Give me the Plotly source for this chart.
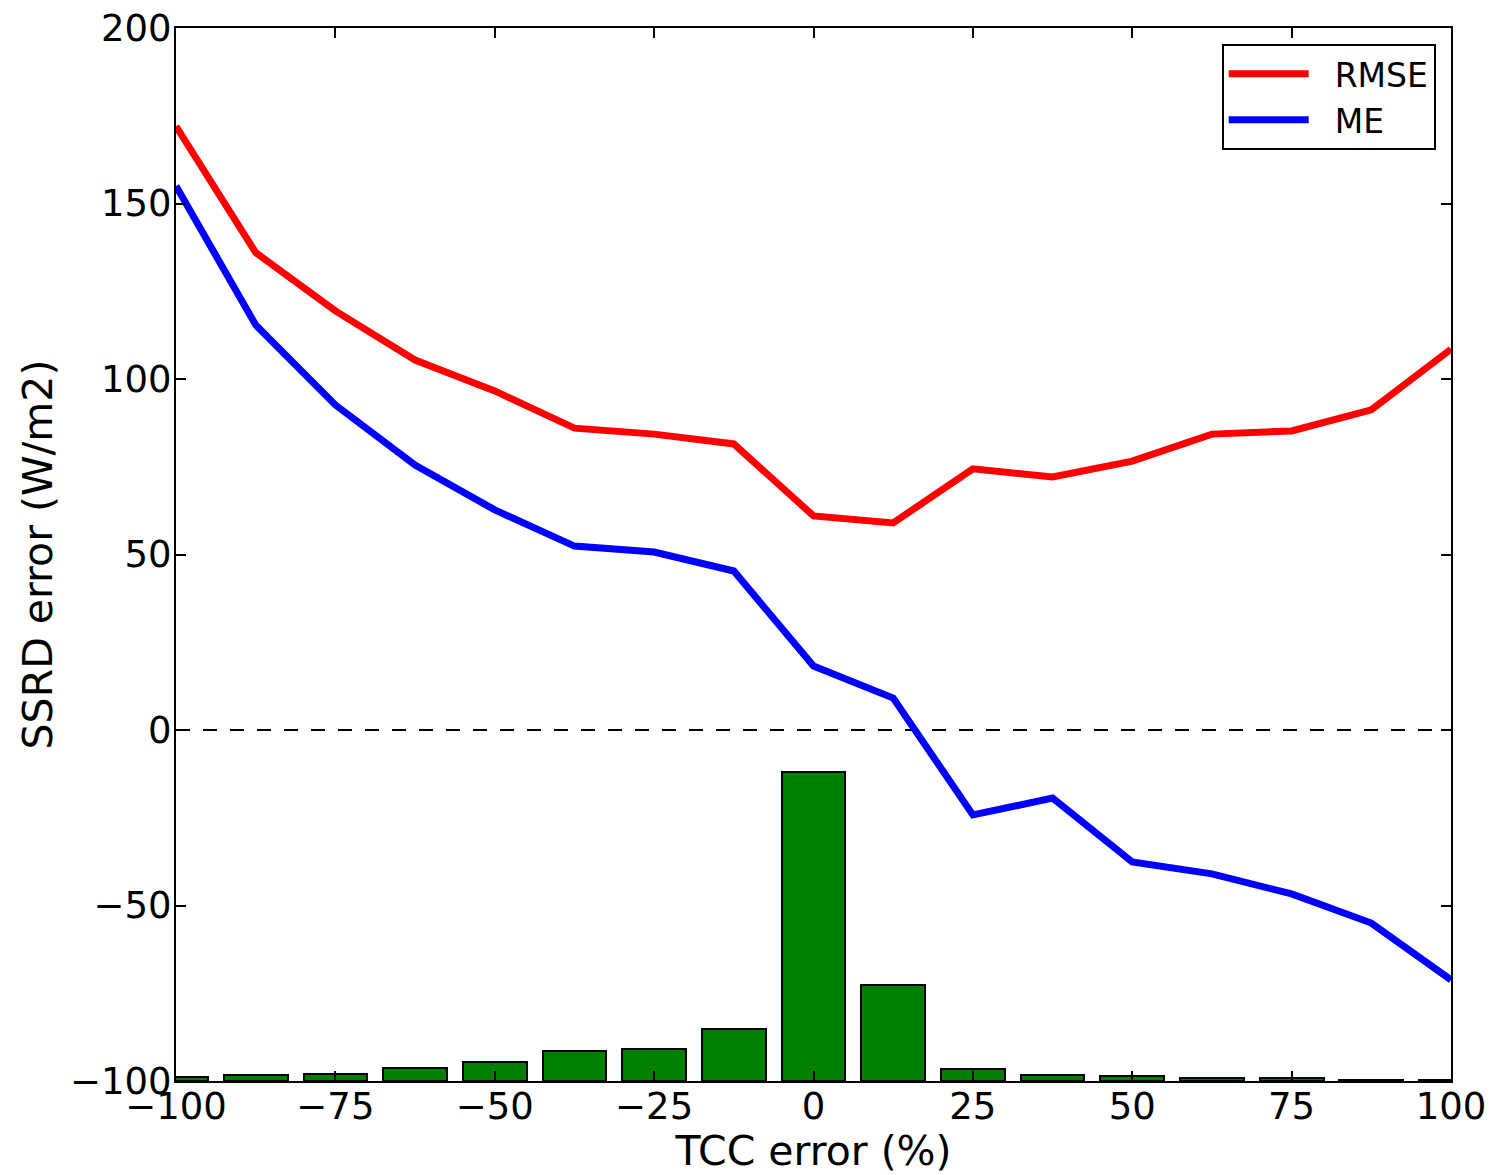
import plotly.graph_objects as go

tcc_error = [-100, -87.5, -75, -62.5, -50, -37.5, -25, -12.5, 0, 12.5, 25, 37.5, 50, 62.5, 75, 87.5, 100]
rmse = [172, 136, 119.4, 105.4, 96.6, 86, 84.3, 81.5, 61, 59, 74.4, 72.1, 76.6, 84.3, 85.2, 91.2, 108.5]
me = [155, 115.4, 92.6, 75.5, 62.7, 52.4, 50.7, 45.3, 18.2, 9.1, -24.2, -19.4, -37.6, -41, -46.7, -55, -71.2]
# histogram bar heights, drawn upward from the bottom of the axis (-100)
counts = [1.1, 1.7, 2.0, 3.7, 5.4, 8.5, 9.1, 14.8, 88.0, 27.4, 3.4, 1.7, 1.4, 0.9, 0.9, 0.4, 0.4]
bar_base = -100

x_ticks = [-100, -75, -50, -25, 0, 25, 50, 75, 100]
y_ticks = [-100, -50, 0, 50, 100, 150, 200]

font_family = "DejaVu Sans"
pad = "\u00a0\u00a0"

fig = go.Figure()
fig.add_trace(go.Bar(
    x=tcc_error, y=counts, base=bar_base, width=10,
    marker=dict(color="#008000", line=dict(color="black", width=2)),
    showlegend=False,
))
fig.add_trace(go.Scatter(
    x=[-100, 100], y=[0, 0], mode="lines",
    line=dict(color="black", width=2, dash="14px,13px"),
    showlegend=False, hoverinfo="skip",
))
fig.add_trace(go.Scatter(
    x=tcc_error, y=rmse, mode="lines", name=pad + "RMSE",
    line=dict(color="#ff0000", width=7),
))
fig.add_trace(go.Scatter(
    x=tcc_error, y=me, mode="lines", name=pad + "ME",
    line=dict(color="#0000ff", width=7),
))

axis_common = dict(
    showline=True, linecolor="black", linewidth=2, mirror="ticks",
    ticks="inside", ticklen=10, tickwidth=1.5, tickcolor="black",
    showgrid=False, zeroline=False, ticklabeloverflow="allow",
    automargin=False,
    tickfont=dict(family=font_family, size=37, color="black"),
)

fig.update_layout(
    width=1488, height=1167,
    margin=dict(l=168, r=45, t=20, b=94),
    paper_bgcolor="white", plot_bgcolor="white",
    font=dict(family=font_family, color="black"),
    bargap=0,
    xaxis=dict(
        range=[-100, 100], tickvals=x_ticks,
        title=dict(text="TCC error (%)", font=dict(family=font_family, size=41), standoff=11),
        ticklabelstandoff=-8,
        **axis_common,
    ),
    yaxis=dict(
        range=[-100, 200], tickvals=y_ticks,
        title=dict(text="SSRD error (W/m2)", font=dict(family=font_family, size=41), standoff=5),
        ticklabelstandoff=-5,
        **axis_common,
    ),
    legend=dict(
        x=0.988, y=0.985, xanchor="right", yanchor="top",
        bordercolor="black", borderwidth=2, bgcolor="white",
        font=dict(family=font_family, size=33),
        itemwidth=80,
    ),
)

fig.write_html("out.html")
